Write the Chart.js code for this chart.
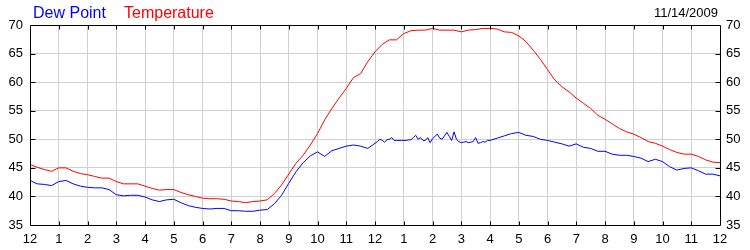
<!DOCTYPE html>
<html>
<head>
<meta charset="utf-8">
<script src="https://cdn.jsdelivr.net/npm/chart.js@4"></script>
<style>
html,body{margin:0;padding:0;background:#fff;}
#wrap{width:750px;height:250px;position:relative;}
</style>
</head>
<body>
<div id="wrap"><canvas id="c" width="750" height="250"></canvas></div>
<script>
// Dew point: every 15 min from 12 AM to 11:45 AM, every 5 min from 12 PM to 3:55 PM,
// every 15 min from 4 PM to 12 AM.
const dewPoint = [
  42.8,42.2,42.1,41.9, 42.6,42.8,42.2,41.8, 41.6,41.5,41.5,41.2, 40.3,40.1,40.2,40.2,
  39.9,39.4,39.1,39.4, 39.5,38.9,38.4,38.1, 37.9,37.8,37.9,37.9, 37.5,37.5,37.4,37.4,
  37.6,37.7,38.7,40.2, 42.3,44.3,45.9,47.1, 47.8,47.0,48.0,48.4, 48.8,49.0,48.8,48.4,
  // 12:00 - 12:55
  49.3,49.6,50.0,49.8,49.5,49.9,50.0,50.3,49.8,49.8,49.8,49.8,
  // 1:00 - 1:55
  49.8,49.8,49.9,49.9,50.3,50.7,50.0,50.3,49.8,49.8,50.3,49.4,
  // 2:00 - 2:55
  50.1,50.5,50.9,50.2,50.0,50.6,51.2,50.5,49.8,51.3,50.0,49.6,
  // 3:00 - 3:55
  49.4,49.5,49.6,49.4,49.5,49.6,50.3,49.3,49.4,49.6,49.5,49.8,
  // 4:00 PM onward
  49.8,50.2,50.6,51.0, 51.2,50.7,50.5,50.0, 49.8,49.5,49.2,48.8, 49.2,48.6,48.4,47.9,
  47.9,47.4,47.2,47.2, 47.0,46.7,46.1,46.5, 46.1,45.2,44.6,44.9, 45.0,44.5,43.9,43.9,
  43.6
];
// Temperature: every 15 min from 12 AM to 12 AM
const temperature = [
  45.6,45.1,44.7,44.4, 45.0,45.0,44.4,44.0, 43.8,43.5,43.2,43.2, 42.6,42.2,42.2,42.2,
  41.8,41.4,41.1,41.2, 41.2,40.7,40.3,40.0, 39.7,39.6,39.6,39.5, 39.2,39.1,38.9,39.1,
  39.2,39.4,40.5,42.0, 43.9,45.8,47.2,49.0, 51.0,53.4,55.4,57.2, 58.9,60.8,61.5,63.6,
  65.3,66.6,67.4,67.4, 68.5,69.0,69.1,69.1, 69.4,69.1,69.1,69.1, 68.8,69.1,69.2,69.4,
  69.4,69.3,68.8,68.7, 68.1,67.1,65.6,64.0, 62.2,60.4,59.2,58.3, 57.2,56.3,55.4,54.2,
  53.5,52.7,51.9,51.3, 50.9,50.3,49.6,49.3, 48.8,48.2,47.7,47.4, 47.4,47.0,46.4,46.0,
  45.9
];
const hourLabels = ['12','1','2','3','4','5','6','7','8','9','10','11','12','1','2','3','4','5','6','7','8','9','10','11','12'];
const yTicks = [35,40,45,50,55,60,65,70];
const seriesNames = ['Dew Point','Temperature'];
const dateLabel = '11/14/2009';

// sampling schedule (hours since midnight)
const range = (start, end, step) => { const r = []; for (let k = 0; start + k*step <= end + 1e-9; k++) r.push(start + k*step); return r; };
const dewTimes = [...range(0, 11.75, 0.25), ...range(12, 15 + 55/60, 1/12), ...range(16, 24, 0.25)];
const tempTimes = range(0, 24, 0.25);
const toPoints = (ts, arr) => arr.map((v,i) => ({x: ts[i], y: v}));

const FONT = 'Liberation Sans, Arial, sans-serif';

const framePlugin = {
  id: 'frame',
  afterDraw(chart) {
    const ctx = chart.ctx;
    const a = chart.chartArea;
    const xs = chart.scales.x, ys = chart.scales.y;
    const L = Math.round(a.left) + 0.5, R = Math.round(a.right) + 0.5;
    const T = Math.round(a.top) + 0.5, B = Math.round(a.bottom) + 0.5;
    ctx.save();
    ctx.strokeStyle = '#000';
    ctx.lineWidth = 1;
    ctx.beginPath();
    ctx.rect(L, T, R - L, B - T);
    for (let h = 1; h < hourLabels.length - 1; h++) {
      const px = Math.round(xs.getPixelForValue(h)) + 0.5;
      ctx.moveTo(px, T); ctx.lineTo(px, T + 4);
      ctx.moveTo(px, B); ctx.lineTo(px, B - 4);
    }
    yTicks.forEach(v => {
      if (v === yTicks[0] || v === yTicks[yTicks.length-1]) return;
      const py = Math.round(ys.getPixelForValue(v)) + 0.5;
      ctx.moveTo(L, py); ctx.lineTo(L + 5, py);
      ctx.moveTo(R, py); ctx.lineTo(R - 5, py);
    });
    ctx.stroke();
    ctx.font = '16px ' + FONT;
    ctx.textBaseline = 'alphabetic';
    ctx.textAlign = 'left';
    ctx.fillStyle = '#0000ff';
    ctx.fillText(seriesNames[0], 33, 18);
    ctx.fillStyle = '#ff0000';
    ctx.fillText(seriesNames[1], 124, 18);
    ctx.font = '13px ' + FONT;
    ctx.fillStyle = '#000';
    ctx.textAlign = 'right';
    ctx.fillText(dateLabel, 718, 17);
    ctx.restore();
  }
};

new Chart(document.getElementById('c'), {
  type: 'line',
  data: {
    datasets: [
      { label: seriesNames[0], data: toPoints(dewTimes, dewPoint), borderColor: '#0000ff', borderWidth: 1, pointRadius: 0, tension: 0, fill: false },
      { label: seriesNames[1], data: toPoints(tempTimes, temperature), borderColor: '#ff0000', borderWidth: 1, pointRadius: 0, tension: 0, fill: false }
    ]
  },
  options: {
    responsive: false,
    animation: false,
    events: [],
    layout: { padding: { top: 25, left: 0, right: 0, bottom: 0 } },
    plugins: { legend: { display: false }, tooltip: { enabled: false } },
    scales: {
      x: {
        type: 'linear', min: 0, max: 24,
        afterFit: s => { s.height = 25; },
        afterBuildTicks: s => { s.ticks = hourLabels.map((l,i) => ({value: i})); },
        ticks: {
          autoSkip: false, maxRotation: 0, padding: 7,
          color: '#000', font: { family: FONT, size: 13 },
          callback: (v) => hourLabels[v]
        },
        grid: { color: '#d0d0d0', lineWidth: 1, drawTicks: false },
        border: { display: false }
      },
      y: {
        position: 'left', min: 35, max: 70,
        afterFit: s => { s.width = 30; },
        afterBuildTicks: s => { s.ticks = yTicks.map(v => ({value: v})); },
        ticks: { padding: 7, color: '#000', font: { family: FONT, size: 13 } },
        grid: { color: '#d0d0d0', lineWidth: 1, drawTicks: false },
        border: { display: false }
      },
      y2: {
        position: 'right', min: 35, max: 70,
        afterFit: s => { s.width = 30; },
        afterBuildTicks: s => { s.ticks = yTicks.map(v => ({value: v})); },
        ticks: { padding: 6, color: '#000', font: { family: FONT, size: 13 } },
        grid: { display: false, drawTicks: false },
        border: { display: false }
      }
    }
  },
  plugins: [framePlugin]
});
</script>
</body>
</html>
